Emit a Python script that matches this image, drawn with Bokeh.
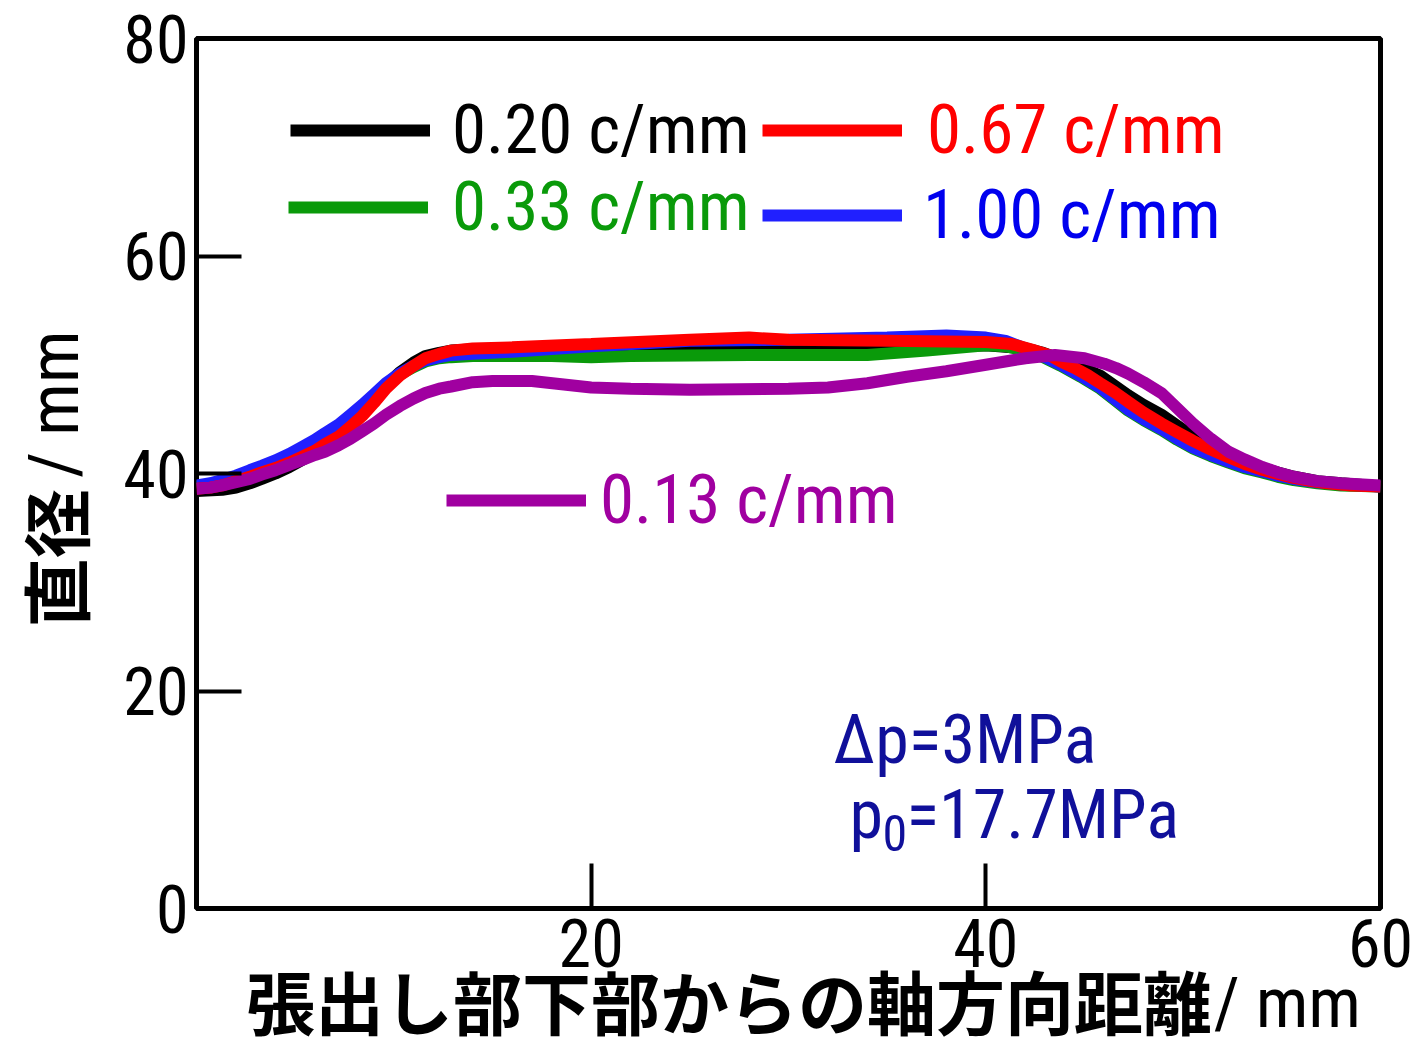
from bokeh.plotting import figure
from bokeh.models import FixedTicker, Label, Legend, LegendItem, LinearAxis
from bokeh.embed import file_html
from bokeh.resources import INLINE

# ---------------- data ----------------
x_black = [0, 1.3, 2, 2.7, 3.3, 4, 4.7, 5.3, 6, 6.5, 7.2, 7.8, 8.4, 9, 9.6, 10.3, 11, 11.6, 12.3, 12.9, 14, 16, 20, 25, 30, 35, 40, 42, 42.9, 43.8, 44.8, 45.8, 46.5, 47.2, 48, 48.9, 49.7, 50.5, 51.4, 52.3, 53.1, 54, 54.8, 55.6, 56.8, 58, 60]
y_black = [38.4, 38.5, 38.7, 39.1, 39.5, 40.0, 40.6, 41.2, 41.9, 42.6, 43.5, 44.5, 45.7, 46.9, 48.1, 49.3, 50.2, 50.8, 51.1, 51.3, 51.4, 51.5, 51.5, 51.6, 51.6, 51.7, 51.8, 51.5, 51.1, 50.5, 49.8, 49.0, 48.1, 47.2, 46.3, 45.4, 44.4, 43.4, 42.5, 41.7, 41.0, 40.5, 40.1, 39.7, 39.3, 39.1, 38.8]

x_green = [0, 0.7, 1.3, 2, 2.7, 3.3, 4, 4.7, 5.3, 6, 6.5, 7.2, 7.8, 8.4, 9, 9.6, 10.3, 11, 11.6, 12.3, 12.9, 14, 18, 20, 22, 28, 34, 37, 40, 41, 42, 42.9, 43.8, 44.8, 45.8, 46.5, 47.2, 48, 48.9, 49.7, 50.5, 51.4, 52.3, 53.1, 54, 54.8, 55.6, 56.8, 58, 60]
y_green = [38.8, 39.0, 39.3, 39.7, 40.2, 40.6, 41.1, 41.7, 42.3, 43.0, 43.6, 44.4, 45.3, 46.2, 47.2, 48.2, 49.1, 49.8, 50.3, 50.6, 50.7, 50.8, 50.8, 50.7, 50.8, 50.9, 50.9, 51.3, 51.8, 51.7, 51.3, 50.7, 49.9, 48.9, 47.8, 46.8, 45.8, 44.9, 44.0, 43.1, 42.3, 41.6, 41.0, 40.5, 40.1, 39.7, 39.4, 39.1, 38.9, 38.8]

x_blue = [0, 0.7, 1.3, 2, 2.7, 3.3, 4, 4.7, 5.3, 6, 6.5, 7.2, 7.8, 8.4, 9, 9.6, 10.3, 11, 11.6, 12.3, 12.9, 14, 16, 20, 25, 30, 35, 38, 40, 41, 42, 42.9, 43.8, 44.8, 45.8, 46.5, 47.2, 48, 48.9, 49.7, 50.5, 51.4, 52.3, 53.1, 54, 54.8, 55.6, 56.8, 58, 60]
y_blue = [38.9, 39.1, 39.4, 39.8, 40.3, 40.7, 41.2, 41.8, 42.4, 43.1, 43.7, 44.5, 45.4, 46.3, 47.3, 48.3, 49.2, 49.9, 50.4, 50.7, 50.9, 51.0, 51.2, 51.7, 52.2, 52.3, 52.5, 52.7, 52.5, 52.2, 51.5, 50.8, 50.0, 49.0, 47.9, 46.9, 45.9, 45.0, 44.1, 43.2, 42.4, 41.7, 41.1, 40.6, 40.2, 39.8, 39.5, 39.2, 39.0, 38.8]

x_red = [0, 0.7, 1.3, 2, 2.7, 3.3, 4, 4.7, 5.3, 6, 6.5, 7.2, 7.8, 8.4, 9, 9.6, 10.3, 11, 11.6, 12.3, 12.9, 14, 16, 20, 25, 28, 30, 35, 40, 41.3, 42.5, 43.2, 43.8, 44.5, 45.2, 45.8, 46.5, 47.2, 48, 48.9, 49.7, 50.5, 51.4, 52.3, 53.1, 53.9, 54.7, 55.6, 56.5, 57.3, 58.5, 60]
y_red = [38.6, 38.7, 38.9, 39.3, 39.7, 40.1, 40.5, 41.0, 41.5, 42.1, 42.7, 43.4, 44.3, 45.3, 46.5, 47.8, 49.0, 49.9, 50.6, 51.0, 51.3, 51.5, 51.6, 51.9, 52.3, 52.5, 52.3, 52.2, 52.1, 51.9, 51.3, 50.9, 50.3, 49.7, 49.0, 48.3, 47.5, 46.6, 45.6, 44.6, 43.8, 43.0, 42.2, 41.5, 40.9, 40.4, 40.0, 39.6, 39.3, 39.1, 38.9, 38.8]

x_purple = [0, 0.7, 1.3, 2, 2.7, 3.3, 4, 4.7, 5.3, 6, 6.5, 7.2, 7.8, 8.4, 9, 9.6, 10.3, 11, 11.6, 12.3, 12.9, 14, 15, 17, 18.5, 20, 22, 25, 30, 32, 34, 36, 38, 40, 42, 43.5, 45, 46, 46.6, 47.2, 48, 48.9, 49.7, 50.5, 51.4, 52.3, 53.1, 54, 54.8, 55.6, 56.8, 58, 60]
y_purple = [38.6, 38.7, 38.9, 39.2, 39.5, 39.9, 40.3, 40.8, 41.2, 41.7, 42.0, 42.6, 43.2, 43.9, 44.6, 45.4, 46.2, 46.9, 47.4, 47.8, 48.0, 48.4, 48.5, 48.5, 48.2, 47.9, 47.8, 47.7, 47.8, 47.9, 48.3, 48.9, 49.4, 50.0, 50.6, 50.9, 50.6, 50.1, 49.7, 49.2, 48.4, 47.4, 46.0, 44.6, 43.2, 42.0, 41.3, 40.6, 40.1, 39.7, 39.3, 39.1, 38.9]

x_ticks = [0, 20, 40, 60]
y_ticks = [0, 20, 40, 60, 80]

NARROW = "Roboto Condensed"
CJK = "Noto Sans CJK JP"
EM = "\u2003"
NB = "\u00a0"
IDEO = "\u3000"

p = figure(width=1417, height=1056, output_backend="svg", toolbar_location=None,
           x_range=(0, 60), y_range=(0, 80),
           min_border_left=196, min_border_right=37, min_border_top=38, min_border_bottom=148)
p.xgrid.visible = False
p.ygrid.visible = False
p.background_fill_color = "white"
p.border_fill_color = "white"
p.outline_line_color = "black"
p.outline_line_width = 5

for ax in (p.xaxis[0], p.yaxis[0]):
    ax.axis_line_color = None
    ax.major_tick_in = 45
    ax.major_tick_out = 0
    ax.minor_tick_line_color = None
    ax.major_tick_line_width = 4
    ax.major_tick_line_color = "black"
    ax.major_label_text_font = NARROW
    ax.major_label_text_font_size = "66px"
    ax.major_label_text_color = "black"

p.xaxis[0].ticker = FixedTicker(ticks=x_ticks)
p.yaxis[0].ticker = FixedTicker(ticks=y_ticks)
p.xaxis[0].major_label_overrides = {0: ""}
p.xaxis[0].major_label_standoff = 10
p.yaxis[0].major_label_standoff = 8


def title_axis(text, font, size, style, standoff, side):
    a = LinearAxis(ticker=FixedTicker(ticks=[]), axis_line_color=None,
                   major_tick_in=0, major_tick_out=0, minor_tick_in=0, minor_tick_out=0,
                   major_label_standoff=0, axis_label=text, axis_label_standoff=standoff,
                   axis_label_text_font=font, axis_label_text_font_size=size,
                   axis_label_text_font_style=style, axis_label_text_color="black")
    p.add_layout(a, side)
    return a

# x title: CJK part (shifted left by trailing spaces), "/ mm" (shifted right by leading spaces)
title_axis("張出し部下部からの軸方向距離" + IDEO + "\u2002" + NB, CJK, "69px", "bold", -20, "below")
title_axis(EM * 16 + NB + "/ mm", NARROW, "70px", "normal", -91, "below")
# y title
title_axis("直径" + IDEO * 2 + NB * 2, CJK, "69px", "bold", 17, "left")
title_axis(EM * 2 + NB + "/ mm", NARROW, "70px", "normal", -94, "left")

lw = 12
r_black = p.line(x_black, y_black, line_color="black", line_width=lw)
r_green = p.line(x_green, y_green, line_color="#0a9a0a", line_width=lw)
r_blue = p.line(x_blue, y_blue, line_color="#2020ff", line_width=lw)
r_red = p.line(x_red, y_red, line_color="#ff0000", line_width=lw)
r_purple = p.line(x_purple, y_purple, line_color="#a000a0", line_width=lw)


def add_legend(label, renderer, color, loc, standoff):
    lg = Legend(items=[LegendItem(label=label, renderers=[renderer])], location=loc,
                glyph_width=140, glyph_height=80, label_height=80,
                label_standoff=standoff, padding=0, margin=0, spacing=0,
                border_line_color=None, background_fill_alpha=0,
                label_text_font=NARROW, label_text_font_size="69px",
                label_text_color=color, label_text_baseline="middle")
    p.add_layout(lg, "center")

add_legend("0.20 c/mm", r_black, "black", (94, 738), 22)
add_legend("0.67 c/mm", r_red, "#ff0000", (566, 738), 25)
add_legend("0.33 c/mm", r_green, "#0a9a0a", (92, 661), 24)
add_legend("1.00 c/mm", r_blue, "#0000ee", (566, 653), 21)
add_legend("0.13 c/mm", r_purple, "#a000a0", (250, 368), 14)

navy = "#10109a"
p.add_layout(Label(x=637, y=169, x_units="screen", y_units="screen", text="Δp=3MPa",
                   text_font=NARROW, text_font_size="68px", text_color=navy,
                   text_baseline="alphabetic"))
p.add_layout(Label(x=653, y=94, x_units="screen", y_units="screen", text="p",
                   text_font=NARROW, text_font_size="68px", text_color=navy,
                   text_baseline="alphabetic"))
p.add_layout(Label(x=686, y=76, x_units="screen", y_units="screen", text="0",
                   text_font=NARROW, text_font_size="50px", text_color=navy,
                   text_baseline="alphabetic"))
p.add_layout(Label(x=710, y=94, x_units="screen", y_units="screen", text="=17.7MPa",
                   text_font=NARROW, text_font_size="68px", text_color=navy,
                   text_baseline="alphabetic"))

open("out.html", "w").write(file_html(p, INLINE))
